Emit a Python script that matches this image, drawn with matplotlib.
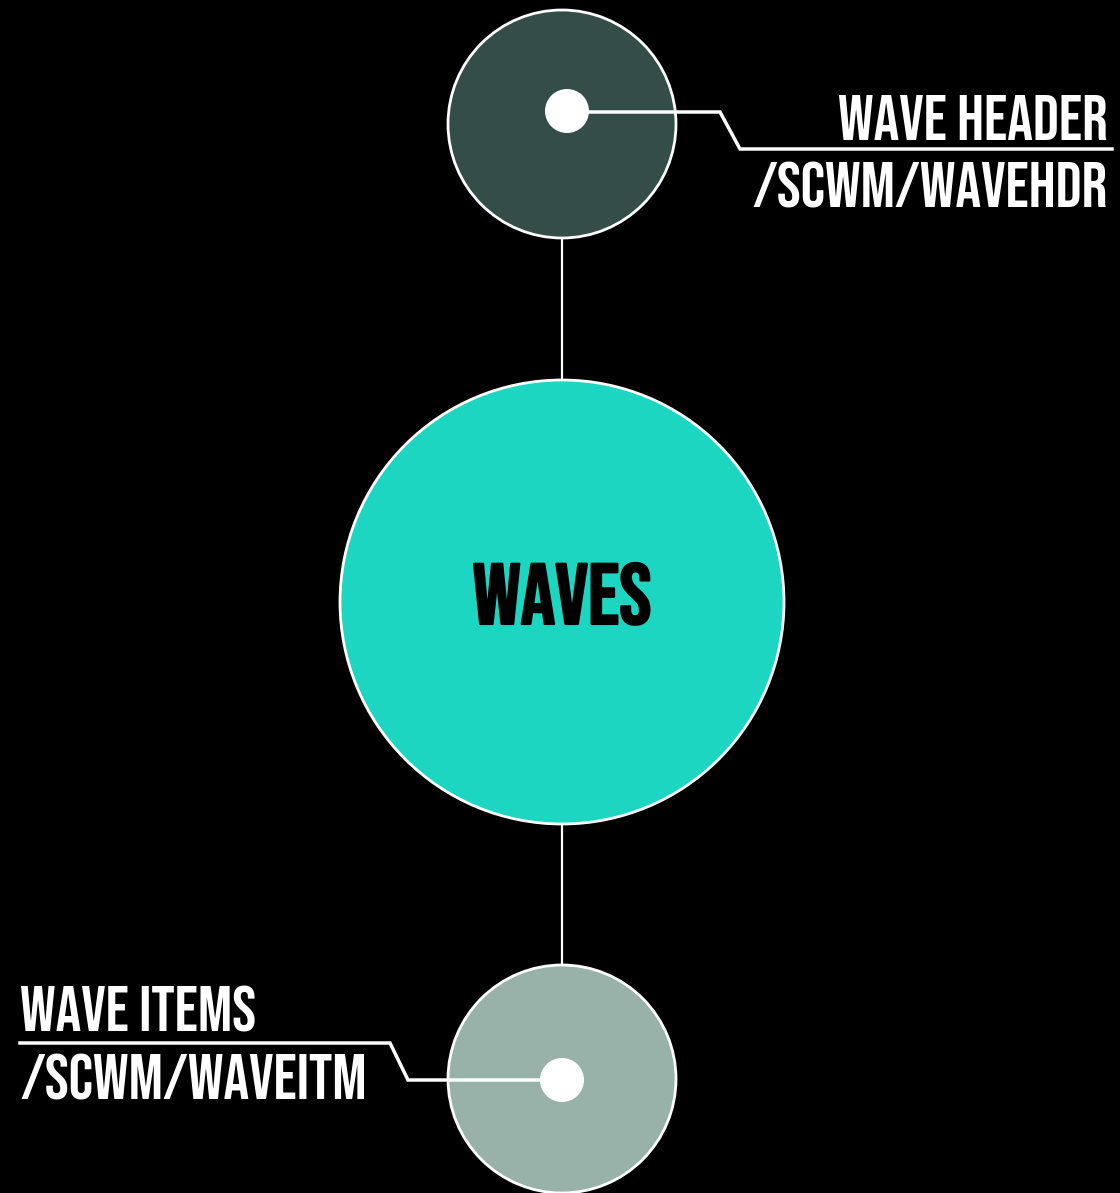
import matplotlib
matplotlib.use("Agg")
import matplotlib.pyplot as plt
import matplotlib.patheffects as pe
from matplotlib.patches import Circle

# node data
center_label = "WAVES"
table_titles = ["WAVE HEADER", "WAVE ITEMS"]
table_names = ["/SCWM/WAVEHDR", "/SCWM/WAVEITM"]
node_colors = ["#354d48", "#1dd6c2", "#98b2aa"]

FONT = ["Bebas Neue", "DejaVu Sans"]

fig = plt.figure(figsize=(11.2, 11.93), dpi=100, facecolor="black")
ax = fig.add_axes([0, 0, 1, 1])
ax.set_facecolor("black")
ax.set_xlim(0, 1120)
ax.set_ylim(1193, 0)
ax.set_aspect("equal")
ax.axis("off")

cx = 562
# connectors between circles
ax.plot([cx, cx], [238, 380], color="white", lw=1.6, zorder=1)
ax.plot([cx, cx], [824, 965], color="white", lw=1.6, zorder=1)

# circles
ax.add_patch(Circle((cx, 124), 114, fc=node_colors[0], ec="white", lw=2, zorder=2))
ax.add_patch(Circle((cx, 602), 222, fc=node_colors[1], ec="white", lw=2, zorder=2))
ax.add_patch(Circle((cx, 1079), 114, fc=node_colors[2], ec="white", lw=2, zorder=2))

# leader lines
ax.plot([567, 720, 740, 1112], [112, 112, 149, 149], color="white", lw=2.5, zorder=3,
        solid_joinstyle="miter")
ax.plot([20, 390, 408, 562], [1043, 1043, 1080, 1080], color="white", lw=2.5, zorder=3,
        solid_joinstyle="miter")

# dots
ax.add_patch(Circle((567, 111), 22, fc="white", ec="none", zorder=4))
ax.add_patch(Circle((562, 1080), 22, fc="white", ec="none", zorder=4))

# centre label, slight stroke to thicken the single-weight font
ax.text(cx, 624, center_label, color="black", fontsize=62,
        family=FONT, ha="center", va="baseline", zorder=5,
        path_effects=[pe.withStroke(linewidth=1.5, foreground="black")])

ax.text(1108, 140, table_titles[0], color="white", fontsize=46,
        family=FONT, ha="right", va="baseline")
ax.text(1108, 208, table_names[0], color="white", fontsize=46,
        family=FONT, ha="right", va="baseline")

ax.text(20, 1032, table_titles[1], color="white", fontsize=46,
        family=FONT, ha="left", va="baseline")
ax.text(20, 1100, table_names[1], color="white", fontsize=46,
        family=FONT, ha="left", va="baseline")

fig.savefig("out.png", dpi=100, facecolor="black")
